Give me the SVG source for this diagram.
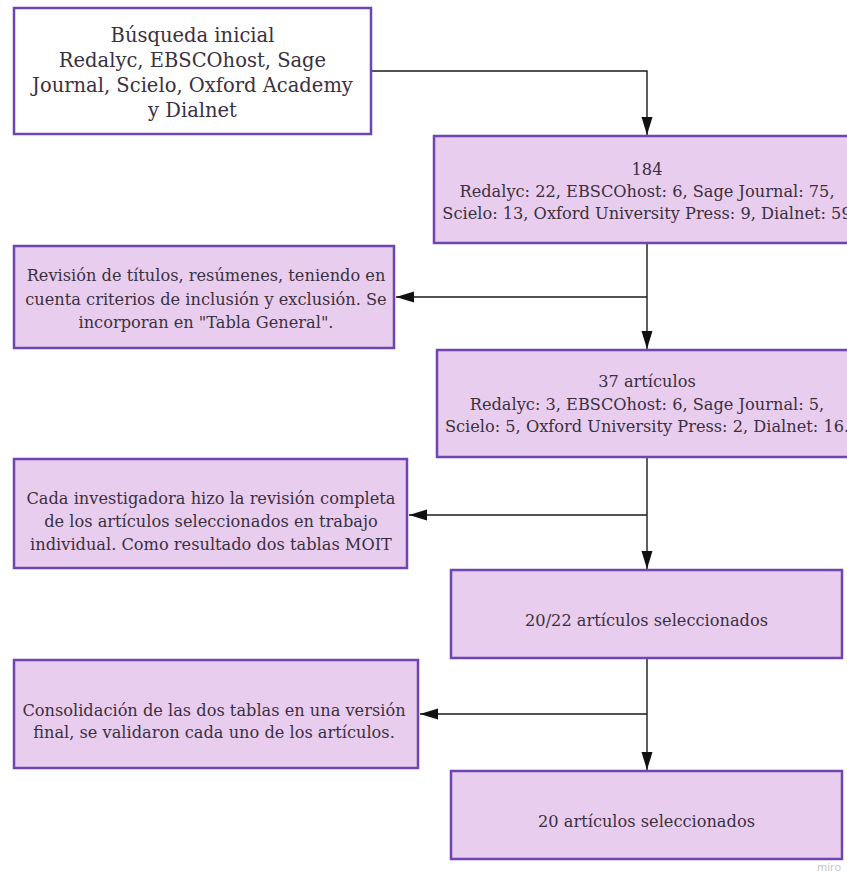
<svg xmlns="http://www.w3.org/2000/svg" width="847" height="875" viewBox="0 0 847 875">
<style>
.box{fill:#e9cdee;stroke:#6e45b3;stroke-width:2.5}
.white{fill:#ffffff}
.t{font-family:"DejaVu Serif","Liberation Serif",serif;fill:#3a3040;text-anchor:middle;font-size:16.2px}
.big{font-size:19.5px}
.conn{fill:none;stroke:#1a1a1a;stroke-width:1.4}
.wm{font-family:"Open Sans","DejaVu Sans",sans-serif;font-size:11px;fill:#c4c4c4}
</style>
<defs>
<marker id="arr" markerUnits="userSpaceOnUse" markerWidth="20" markerHeight="12" refX="18" refY="6" orient="auto">
<path d="M0,0.5 L18,6 L0,11.5 z" fill="#111"/>
</marker>
</defs>
<rect width="847" height="875" fill="#ffffff"/>
<g id="connectors">
<path class="conn" d="M370,71 H647 V135" marker-end="url(#arr)"/>
<path class="conn" d="M647,243 V349" marker-end="url(#arr)"/>
<path class="conn" d="M647,297 H396" marker-end="url(#arr)"/>
<path class="conn" d="M647,457 V569" marker-end="url(#arr)"/>
<path class="conn" d="M647,515 H409" marker-end="url(#arr)"/>
<path class="conn" d="M647,658 V770" marker-end="url(#arr)"/>
<path class="conn" d="M647,714 H420" marker-end="url(#arr)"/>
</g>
<g id="n1">
<rect class="box white" x="14" y="8" width="357" height="126"/>
<text class="t big" x="192.5"><tspan x="192.5" y="42">Búsqueda inicial</tspan><tspan x="192.5" y="67">Redalyc, EBSCOhost, Sage</tspan><tspan x="192.5" y="92">Journal, Scielo, Oxford Academy</tspan><tspan x="192.5" y="117">y Dialnet</tspan></text>
</g>
<g id="n2">
<rect class="box" x="434" y="136" width="426" height="107"/>
<text class="t"><tspan x="647" y="175">184</tspan><tspan x="647" y="197">Redalyc: 22, EBSCOhost: 6, Sage Journal: 75,</tspan><tspan x="647" y="219">Scielo: 13, Oxford University Press: 9, Dialnet: 59</tspan></text>
</g>
<g id="n3">
<rect class="box" x="14" y="246" width="380" height="102"/>
<text class="t"><tspan x="206" y="281">Revisión de títulos, resúmenes, teniendo en</tspan><tspan x="206" y="304.5">cuenta criterios de inclusión y exclusión. Se</tspan><tspan x="206" y="328">incorporan en "Tabla General".</tspan></text>
</g>
<g id="n4">
<rect class="box" x="437" y="350" width="420" height="107"/>
<text class="t"><tspan x="647" y="387">37 artículos</tspan><tspan x="647" y="409.5">Redalyc: 3, EBSCOhost: 6, Sage Journal: 5,</tspan><tspan x="647" y="432">Scielo: 5, Oxford University Press: 2, Dialnet: 16.</tspan></text>
</g>
<g id="n5">
<rect class="box" x="14" y="459" width="393" height="109"/>
<text class="t"><tspan x="211" y="504">Cada investigadora hizo la revisión completa</tspan><tspan x="211" y="527">de los artículos seleccionados en trabajo</tspan><tspan x="211" y="550">individual. Como resultado dos tablas MOIT</tspan></text>
</g>
<g id="n6">
<rect class="box" x="451" y="570" width="391" height="88"/>
<text class="t" x="646.5" y="626">20/22 artículos seleccionados</text>
</g>
<g id="n7">
<rect class="box" x="14" y="660" width="404" height="108"/>
<text class="t"><tspan x="214" y="716">Consolidación de las dos tablas en una versión</tspan><tspan x="214" y="738">final, se validaron cada uno de los artículos.</tspan></text>
</g>
<g id="n8">
<rect class="box" x="451" y="771" width="391" height="88"/>
<text class="t" x="646.5" y="827">20 artículos seleccionados</text>
</g>
<text class="wm" x="817" y="871">miro</text>
</svg>
